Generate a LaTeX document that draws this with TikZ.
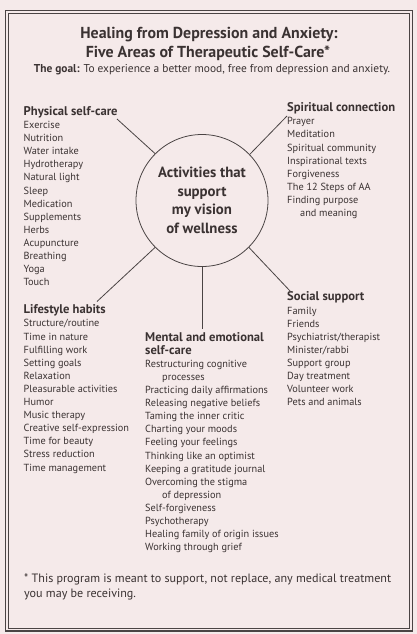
\documentclass[tikz,border=0pt]{standalone}
\usepackage{fontspec}
\setmainfont{PT Sans}
\definecolor{paper}{HTML}{F5EAEA}
\definecolor{ink}{HTML}{3A3232}
\definecolor{rule}{HTML}{4A4444}
\newcommand\hdg[1]{{\fontsize{12.6}{13.1}\selectfont\bfseries #1}}
\begin{document}
\begin{tikzpicture}[x=1pt,y=-1pt,
  txt/.style={inner sep=0pt, anchor=base west, align=left, text=ink,
    font=\fontsize{10.3}{13.1}\selectfont},
  ctr/.style={inner sep=0pt, anchor=base, align=center, text=ink},
  link/.style={draw=rule, line width=0.8pt}]
\fill[paper] (0,0) rectangle (417,634);
\useasboundingbox (0,0) rectangle (417,634);
\draw[rule, line width=1.6pt] (5.5,10.5) rectangle (412.5,631);
\draw[rule, line width=0.8pt] (8.5,13.5) rectangle (409.5,628);

\node[ctr, font=\fontsize{15.9}{20}\selectfont\bfseries] (t1) at (209,38) {Healing from Depression and Anxiety:};
\node[ctr, font=\fontsize{15.9}{20}\selectfont\bfseries] (t2) at (208,58) {Five Areas of Therapeutic Self-Care*};
\node[ctr, font=\fontsize{11.4}{14}\selectfont] (goal) at (212,73) {\textbf{The goal:} To experience a better mood, free from depression and anxiety.};

\node[draw=rule, line width=0.8pt, circle, minimum size=132pt, inner sep=0pt] (hub) at (202,200.5) {};
\node[ctr, font=\fontsize{14.8}{18.4}\selectfont\bfseries] (hubtxt) at (202,233) {Activities that\\support\\my vision\\of wellness};

\node[txt] (phys) at (23.5,285.7) {\hdg{Physical self-care}\\Exercise\\Nutrition\\Water intake\\Hydrotherapy\\Natural light\\Sleep\\Medication\\Supplements\\Herbs\\Acupuncture\\Breathing\\Yoga\\Touch};
\node[txt] (life) at (23.5,471) {\hdg{Lifestyle habits}\\Structure/routine\\Time in nature\\Fulfilling work\\Setting goals\\Relaxation\\Pleasurable activities\\Humor\\Music therapy\\Creative self-expression\\Time for beauty\\Stress reduction\\Time management};
\node[txt] (spir) at (287,216.5) {\hdg{Spiritual connection}\\Prayer\\Meditation\\Spiritual community\\Inspirational texts\\Forgiveness\\The 12 Steps of AA\\Finding purpose\\\hspace*{13pt}and meaning};
\node[txt] (soc) at (287,405.7) {\hdg{Social support}\\Family\\Friends\\Psychiatrist/therapist\\Minister/rabbi\\Support group\\Day treatment\\Volunteer work\\Pets and animals};
\node[txt] (ment) at (145,550.7) {\hdg{Mental and emotional}\\\hdg{self-care}\\Restructuring cognitive\\\hspace*{17pt}processes\\Practicing daily affirmations\\Releasing negative beliefs\\Taming the inner critic\\Charting your moods\\Feeling your feelings\\Thinking like an optimist\\Keeping a gratitude journal\\Overcoming the stigma\\\hspace*{17pt}of depression\\Self-forgiveness\\Psychotherapy\\Healing family of origin issues\\Working through grief};

\node[txt, font=\fontsize{12.1}{14.5}\selectfont] (note) at (24,597) {* This program is meant to support, not replace, any medical treatment\\you may be receiving.};

\coordinate (pe) at (117,119);
\coordinate (se) at (287,116);
\coordinate (le) at (97,301.5);
\coordinate (so) at (291,292);
\coordinate (me) at (202,328.5);
\draw[link] (hub.135) -- (pe);
\draw[link] (hub.44) -- (se);
\draw[link] (hub.225) -- (le);
\draw[link] (hub.-45) -- (so);
\draw[link] (hub.south) -- (me);
\end{tikzpicture}
\end{document}
